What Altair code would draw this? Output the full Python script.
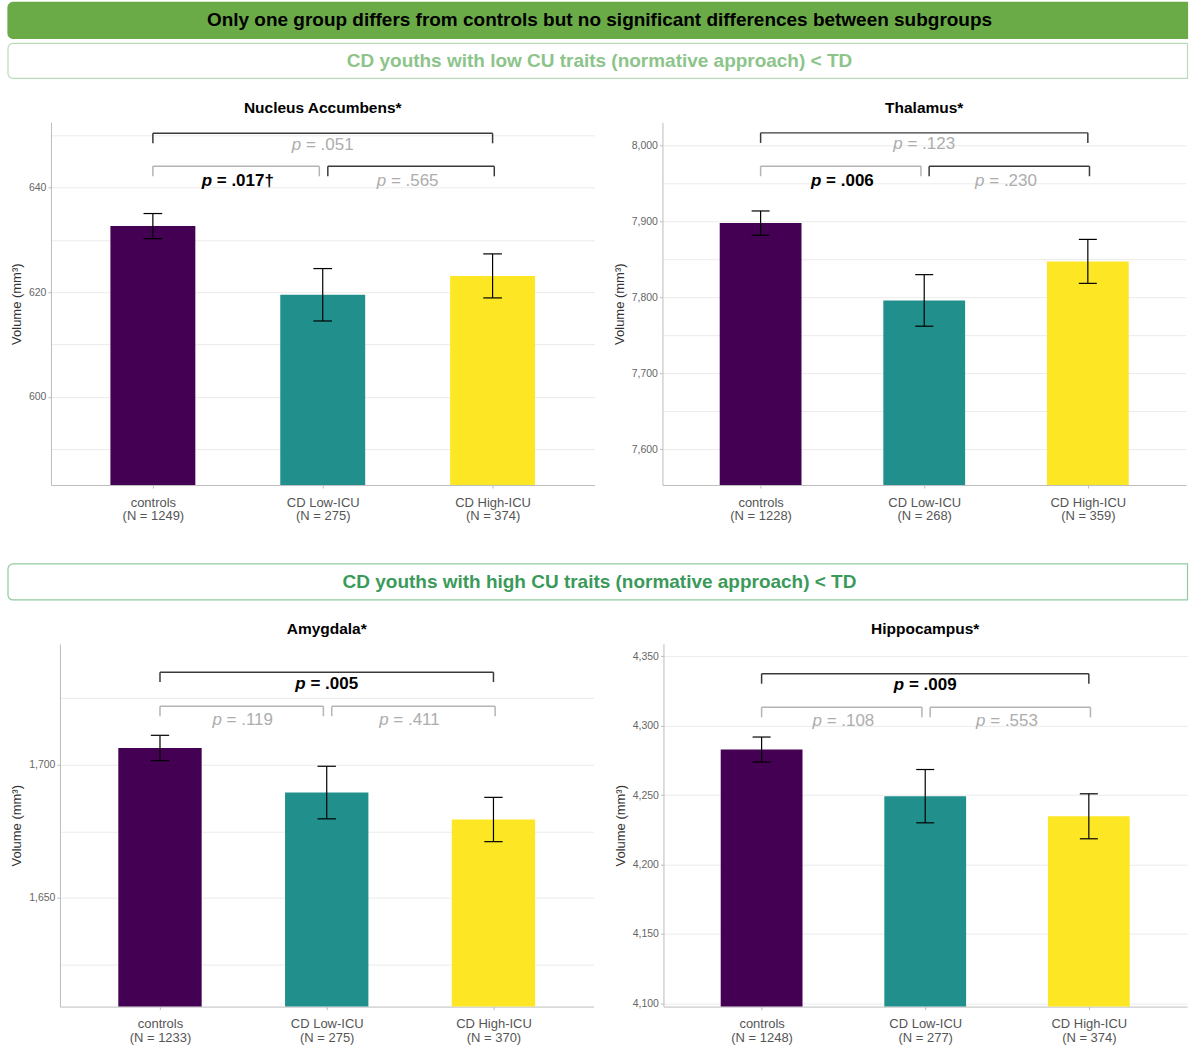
import json

import altair as alt
import pandas as pd

FONT = "Liberation Sans"

# ---------------------------------------------------------------- data
groups = ["controls", "CD Low-ICU", "CD High-ICU"]
group_pos = [1, 2, 3]
group_colors = ["#440154", "#21908C", "#FDE725"]

headline = "Only one group differs from controls but no significant differences between subgroups"
finding_low = "CD youths with low CU traits (normative approach) < TD"
finding_high = "CD youths with high CU traits (normative approach) < TD"

# p-values are listed as [controls vs High-ICU, controls vs Low-ICU, Low-ICU vs High-ICU]
acc_title = "Nucleus Accumbens*"
acc_n = [1249, 275, 374]
acc_mean = [632.6, 619.5, 623.1]
acc_se = [2.4, 5.0, 4.2]
acc_domain = [583.2, 652.4]
acc_major = [600, 620, 640]
acc_minor = [590, 610, 630, 650]
acc_p = [".051", ".017\u2020", ".565"]
acc_p_bold = [False, True, False]
acc_bracket_dark = [True, False, True]
acc_bracket_y = [650.3, 644.0]
acc_label_y = [648.1, 641.3]
acc_tip = 1.9

thal_title = "Thalamus*"
thal_n = [1228, 268, 359]
thal_mean = [7898, 7796, 7847.5]
thal_se = [16, 34, 29]
thal_domain = [7552.5, 8030.9]
thal_major = [7600, 7700, 7800, 7900, 8000]
thal_minor = [7650, 7750, 7850, 7950]
thal_p = [".123", ".006", ".230"]
thal_p_bold = [False, True, False]
thal_bracket_dark = [True, False, True]
thal_bracket_y = [8017, 7973]
thal_label_y = [8002.5, 7953.5]
thal_tip = 13.2

amy_title = "Amygdala*"
amy_n = [1233, 275, 370]
amy_mean = [1706.2, 1689.5, 1679.4]
amy_se = [4.75, 9.85, 8.3]
amy_domain = [1609.3, 1745.2]
amy_major = [1650, 1700]
amy_minor = [1625, 1675, 1725]
amy_p = [".005", ".119", ".411"]
amy_p_bold = [True, False, False]
amy_bracket_dark = [True, False, False]
amy_bracket_y = [1734.6, 1721.8]
amy_label_y = [1730.2, 1716.5]
amy_tip = 3.7

hip_title = "Hippocampus*"
hip_n = [1248, 277, 374]
hip_mean = [4282.8, 4249.2, 4234.7]
hip_se = [9.0, 19.2, 16.2]
hip_domain = [4097.6, 4358.9]
hip_major = [4100, 4150, 4200, 4250, 4300, 4350]
hip_minor = [4125, 4175, 4225, 4275, 4325]
hip_p = [".009", ".108", ".553"]
hip_p_bold = [True, False, False]
hip_bracket_dark = [True, False, False]
hip_bracket_y = [4337.4, 4313.2]
hip_label_y = [4329.5, 4303.6]
hip_tip = 7.2

# bracket spans on the group axis and where their p-values sit
bracket_x1 = [1.0, 1.0, 2.03]
bracket_x2 = [3.0, 1.98, 3.01]
label_x = [2.0, 1.5, 2.5]

# ---------------------------------------------------------------- style
DARK = "#3A3A3A"
LIGHT = "#B4B4B4"
P_GREY = "#ADADAD"
AXIS_GREY = "#BDBDBD"
GRID = "#EBEBEB"
P_SIZE = 17

# Arial-metric advance widths (per 1000 em) for the p-value strings
REG_W = {"p": 556, "=": 584, ".": 278, " ": 278, "\u2020": 556}
BOLD_W = {"p": 611, "=": 584, ".": 278, " ": 278, "\u2020": 556}


def text_width(s, bold):
    table = BOLD_W if bold else REG_W
    return sum(table.get(c, 556) for c in s) * P_SIZE / 1000.0


def p_label(xs, ys, x, y, value, bold):
    """Italic 'p' followed by the upright '= value', centred on (x, y)."""
    rest = "= " + value
    wp = text_width("p", bold)
    gap = text_width(" ", bold)
    wr = text_width(rest, bold)
    split = wp - (wp + gap + wr) / 2.0
    color = "black" if bold else P_GREY
    weight = "bold" if bold else "normal"
    one = pd.DataFrame({"k": [0]})
    common = dict(font=FONT, fontSize=P_SIZE, fontWeight=weight, color=color, baseline="middle")
    pos = dict(x=alt.X(datum=x, type="quantitative", scale=xs), y=alt.Y(datum=y, type="quantitative", scale=ys))
    p_mark = alt.Chart(one).mark_text(align="right", fontStyle="italic", dx=split, **common).encode(
        text=alt.value("p"), **pos)
    rest_mark = alt.Chart(one).mark_text(align="left", dx=split + gap, **common).encode(
        text=alt.value(rest), **pos)
    return [p_mark, rest_mark]


def panel(title, n, mean, se, domain, major, minor, pvals, pbold, dark, bracket_y, lab_y, tip, width, height=363):
    tick_labels = [f"{g}\n(N = {k})" for g, k in zip(groups, n)]
    xs = alt.Scale(domain=[0.4, 3.6], nice=False, zero=False)
    ys = alt.Scale(domain=domain, nice=False, zero=False)

    major_js = json.dumps(major)
    x_axis = alt.Axis(
        values=group_pos,
        labelExpr=f"split({json.dumps(tick_labels)}[datum.value - 1], '\\n')",
        title=None, grid=False, domainColor=AXIS_GREY, domainWidth=1,
        tickColor=AXIS_GREY, tickSize=3, labelFont=FONT, labelFontSize=13,
        labelColor="#555555", labelLineHeight=14, labelPadding=8,
    )
    y_axis = alt.Axis(
        values=sorted(major + minor),
        labelExpr=f"indexof({major_js}, datum.value) >= 0 ? format(datum.value, ',') : ''",
        tickOpacity={"condition": {"test": f"indexof({major_js}, datum.value) >= 0", "value": 1}, "value": 0},
        title="Volume (mm\u00b3)", titleFont=FONT, titleFontSize=13, titleFontWeight="normal",
        titleColor="#333333", titlePadding=5,
        grid=True, gridColor=GRID, gridWidth=1,
        domainColor=AXIS_GREY, domainWidth=1, tickColor=AXIS_GREY, tickSize=3,
        labelFont=FONT, labelFontSize=10.5, labelColor="#666666", labelPadding=2,
    )

    df = pd.DataFrame({"group": groups, "pos": group_pos, "mean": mean, "se": se})
    base = alt.Chart(df).transform_calculate(
        left="datum.pos - 0.25", right="datum.pos + 0.25",
        lo="datum.mean - datum.se", hi="datum.mean + datum.se",
        cap_l="datum.pos - 0.055", cap_r="datum.pos + 0.055",
    )

    bars = base.mark_bar(clip=True).encode(
        x=alt.X("left:Q", scale=xs, axis=x_axis),
        x2="right:Q",
        y=alt.Y("mean:Q", scale=ys, axis=y_axis),
        y2=alt.Y2(datum=0),
        color=alt.Color("group:N", scale=alt.Scale(domain=groups, range=group_colors), legend=None),
    )
    err = base.mark_rule(color="black", strokeWidth=1.2).encode(
        x=alt.X("pos:Q", scale=xs), y=alt.Y("lo:Q", scale=ys), y2="hi:Q"
    )
    cap_lo = base.mark_rule(color="black", strokeWidth=1.2).encode(
        x=alt.X("cap_l:Q", scale=xs), x2="cap_r:Q", y=alt.Y("lo:Q", scale=ys)
    )
    cap_hi = base.mark_rule(color="black", strokeWidth=1.2).encode(
        x=alt.X("cap_l:Q", scale=xs), x2="cap_r:Q", y=alt.Y("hi:Q", scale=ys)
    )

    br = pd.DataFrame({
        "x1": bracket_x1, "x2": bracket_x2,
        "y": [bracket_y[0], bracket_y[1], bracket_y[1]],
        "stroke": [DARK if d else LIGHT for d in dark],
    })
    br_base = alt.Chart(br).transform_calculate(tip=f"datum.y - {tip}")
    stroke = alt.Color("stroke:N", scale=None)
    br_h = br_base.mark_rule(strokeWidth=1.5).encode(
        x=alt.X("x1:Q", scale=xs), x2="x2:Q", y=alt.Y("y:Q", scale=ys), color=stroke
    )
    br_l = br_base.mark_rule(strokeWidth=1.5).encode(
        x=alt.X("x1:Q", scale=xs), y=alt.Y("tip:Q", scale=ys), y2="y:Q", color=stroke
    )
    br_r = br_base.mark_rule(strokeWidth=1.5).encode(
        x=alt.X("x2:Q", scale=xs), y=alt.Y("tip:Q", scale=ys), y2="y:Q", color=stroke
    )

    labels = []
    ly = [lab_y[0], lab_y[1], lab_y[1]]
    for i in range(3):
        labels += p_label(xs, ys, label_x[i], ly[i], pvals[i], pbold[i])

    return alt.layer(bars, err, cap_lo, cap_hi, br_h, br_l, br_r, *labels).properties(
        width=width, height=height,
        title=alt.TitleParams(title, font=FONT, fontSize=15.5, fontWeight="bold", color="black",
                              anchor="middle", offset=6),
    )


def spacer():
    """Empty one-pixel cell that pins a row's left edge."""
    return alt.Chart(pd.DataFrame({"k": [0]})).mark_point(opacity=0, size=1).encode(
        x=alt.value(2), y=alt.value(2)
    ).properties(width=1, height=1)


BANNER_W = 1182


def banner(text, height, top, bottom, fill, stroke, color):
    d = pd.DataFrame({"label": [text]})
    b = alt.Chart(d)
    box = b.mark_rect(fill=fill, stroke=stroke, strokeWidth=1.2,
                      cornerRadiusTopLeft=5, cornerRadiusBottomLeft=5).encode(
        x=alt.value(1), x2=alt.value(BANNER_W - 0.5), y=alt.value(top), y2=alt.value(bottom)
    )
    txt = b.mark_text(font=FONT, fontSize=19, fontWeight="bold", color=color,
                      align="center", baseline="middle").encode(
        x=alt.value(593), y=alt.value((top + bottom) / 2), text="label:N"
    )
    return alt.layer(box, txt).properties(width=BANNER_W, height=height)


top_banner = banner(headline, 40, 2, 38, "#6AAB47", "#6AAB47", "black")
low_banner = banner(finding_low, 60, 3, 38, "white", "#B9DDB8", "#8CC48A")
high_banner = banner(finding_high, 99, 41, 77, "white", "#8FCB9F", "#3B9A5A")

p_acc = panel(acc_title, acc_n, acc_mean, acc_se, acc_domain, acc_major, acc_minor, acc_p, acc_p_bold,
              acc_bracket_dark, acc_bracket_y, acc_label_y, acc_tip, 544)
p_thal = panel(thal_title, thal_n, thal_mean, thal_se, thal_domain, thal_major, thal_minor, thal_p,
               thal_p_bold, thal_bracket_dark, thal_bracket_y, thal_label_y, thal_tip, 524)
p_amy = panel(amy_title, amy_n, amy_mean, amy_se, amy_domain, amy_major, amy_minor, amy_p, amy_p_bold,
              amy_bracket_dark, amy_bracket_y, amy_label_y, amy_tip, 534)
p_hip = panel(hip_title, hip_n, hip_mean, hip_se, hip_domain, hip_major, hip_minor, hip_p, hip_p_bold,
              hip_bracket_dark, hip_bracket_y, hip_label_y, hip_tip, 524)

row1 = alt.hconcat(
    alt.hconcat(spacer(), p_acc, spacing=0),
    p_thal,
    spacing=18,
).resolve_scale(x="independent", y="independent")

row2 = alt.hconcat(
    alt.hconcat(spacer(), p_amy, spacing=0),
    p_hip,
    spacing=20,
).resolve_scale(x="independent", y="independent")

chart = alt.vconcat(
    top_banner, low_banner, row1, high_banner, row2, spacing=0,
).properties(
    padding={"left": 7, "top": 0, "right": 0, "bottom": 0},
    background="white",
).configure_view(stroke=None)

chart.save("out.html", embed_options={"renderer": "svg", "actions": False})
